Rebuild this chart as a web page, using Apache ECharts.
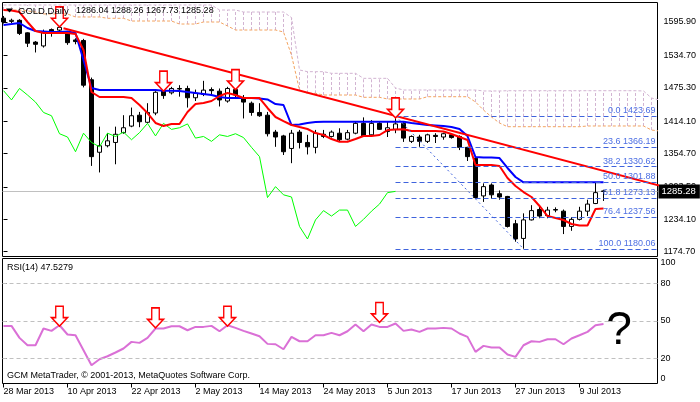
<!DOCTYPE html>
<html><head><meta charset="utf-8">
<script src="https://cdn.jsdelivr.net/npm/echarts@6/dist/echarts.min.js"></script>
<style>html,body{margin:0;padding:0;background:#fff}#c{width:700px;height:402px}</style>
</head><body><div id="c"></div>
<script>
const dates = ['28 Mar 2013','1 Apr 2013','2 Apr 2013','3 Apr 2013','4 Apr 2013','5 Apr 2013','8 Apr 2013','9 Apr 2013','10 Apr 2013','11 Apr 2013',
'12 Apr 2013','15 Apr 2013','16 Apr 2013','17 Apr 2013','18 Apr 2013','19 Apr 2013','22 Apr 2013','23 Apr 2013','24 Apr 2013','25 Apr 2013',
'26 Apr 2013','29 Apr 2013','30 Apr 2013','1 May 2013','2 May 2013','3 May 2013','6 May 2013','7 May 2013','8 May 2013','9 May 2013',
'10 May 2013','13 May 2013','14 May 2013','15 May 2013','16 May 2013','17 May 2013','20 May 2013','21 May 2013','22 May 2013','23 May 2013',
'24 May 2013','27 May 2013','28 May 2013','29 May 2013','30 May 2013','31 May 2013','3 Jun 2013','4 Jun 2013','5 Jun 2013','6 Jun 2013',
'7 Jun 2013','10 Jun 2013','11 Jun 2013','12 Jun 2013','13 Jun 2013','14 Jun 2013','17 Jun 2013','18 Jun 2013','19 Jun 2013','20 Jun 2013',
'21 Jun 2013','24 Jun 2013','25 Jun 2013','26 Jun 2013','27 Jun 2013','28 Jun 2013','1 Jul 2013','2 Jul 2013','3 Jul 2013','4 Jul 2013',
'5 Jul 2013','8 Jul 2013','9 Jul 2013','10 Jul 2013','11 Jul 2013','12 Jul 2013'];
const tickIdx = [0,8,16,24,32,40,48,56,64,72];
const priceTicks = [1174.70,1234.10,1293.50,1354.70,1414.10,1475.30,1534.70,1595.90];
const rsiTicks = [0,20,50,80,100];
const rsiLevels = [20,50,80];

const open = [1603,1597,1599,1576,1559,1552,1582,1581,1575,1563,
1562,1490,1357,1369,1375,1393,1405,1425,1412,1429,
1470,1466,1474,1474,1457,1463,1472,1469,1451,1472,
1457,1447,1430,1425,1394,1387,1364,1394,1375,1366,
1390,1386,1392,1381,1392,1410,1389,1410,1395,1399,
1410,1377,1385,1377,1388,1385,1389,1386,1366,1346,
1277,1297,1281,1276,1226,1199,1233,1252,1241,1252,
1249,1221,1234,1249,1263,1286.04];
const high = [1607,1602,1601,1577,1561,1582,1584,1590,1578,1566,
1565,1494,1404,1392,1404,1425,1439,1431,1447,1469,
1486,1477,1480,1479,1472,1488,1476,1474,1477,1475,
1462,1450,1447,1431,1398,1389,1398,1398,1389,1398,
1398,1397,1401,1398,1414,1421,1416,1413,1413,1423.69,
1413,1388,1389,1391,1392,1393,1391,1388,1367,1349,
1300,1300,1287,1277,1233,1245,1260,1260,1257,1256,
1252,1238,1257,1270,1301,1288.26];
const low = [1593,1594,1572,1550,1540,1549,1569,1579,1554,1555,
1476,1332,1320,1366,1335,1391,1403,1403,1410,1425,
1455,1463,1459,1439,1451,1460,1462,1441,1448,1456,
1419,1424,1422,1386,1367,1352,1337,1364,1353,1355,
1383,1384,1376,1379,1390,1385,1386,1398,1385,1392,
1376,1374,1367,1374,1374,1380,1382,1361,1341,1272,
1266,1272,1270,1219,1193,1180.06,1232,1236,1236,1247,
1207,1213,1232,1240,1262,1267.73];
const close = [1596,1599,1575,1557,1555,1577,1576,1586,1558,1560,
1480,1349,1369,1378,1390,1402,1424,1413,1430,1467,
1461,1474,1473,1457,1465,1471,1470,1453,1474,1462,
1449,1430,1424,1391,1385,1358,1392,1375,1367,1392,
1386,1394,1380,1393,1410,1387,1410,1399,1402,1409,
1383,1386,1377,1389,1386,1391,1384,1366,1349,1274,
1294,1279,1275,1221,1198,1233,1250,1240,1251,1251,
1221,1234,1249,1262,1283,1285.28];

const tenkan = [1617.9,1617.0,1614.2,1595.9,1579.4,1575.7,1575.7,1575.7,1575.7,1573.9,
1544.6,1467.5,1458.4,1458.4,1458.4,1458.4,1456.5,1443.7,1429.0,1410.7,
1405.2,1408.9,1408.9,1430.9,1445.5,1447.4,1451.0,1460.2,1465.7,1462.0,
1456.5,1456.5,1456.5,1438.2,1421.7,1414.3,1407.0,1403.3,1399.7,1392.3,
1388.7,1381.3,1376.4,1376.4,1381.3,1386.8,1386.8,1388.7,1397.8,1398.8,
1399.1,1396.0,1396.0,1396.0,1396.0,1395.1,1390.5,1385.0,1379.5,1333.7,
1333.7,1333.7,1331.8,1309.8,1295.1,1284.1,1275.0,1258.5,1240.1,1236.5,
1232.8,1225.5,1222.7,1222.7,1253.0,1253.9];
const kijun = [1590.4,1592.2,1594.1,1584.9,1579.4,1578.5,1577.6,1577.6,1578.5,1575.7,
1526.2,1474.9,1471.2,1471.2,1471.2,1471.2,1471.2,1471.2,1471.2,1471.2,
1469.9,1469.9,1469.4,1467.5,1465.7,1463.9,1462.0,1458.4,1456.5,1456.5,
1456.5,1456.5,1455.6,1453.8,1445.5,1443.7,1407.0,1407.9,1410.7,1412.5,
1413.1,1413.1,1413.1,1413.1,1413.1,1413.1,1413.1,1413.1,1413.1,1413.1,
1413.1,1410.7,1408.9,1407.0,1406.1,1405.2,1403.3,1399.7,1386.8,1348.3,
1347.4,1347.4,1346.5,1328.2,1311.7,1301.9,1301.9,1301.9,1301.9,1301.9,
1301.9,1301.9,1301.9,1301.9,1301.9,1301.9];
const chikou = [1470,1453,1474,1462,1449,1430,1424,1391,1385,1358,
1392,1375,1367,1392,1386,1394,1380,1393,1410,1387,
1410,1399,1402,1409,1383,1386,1377,1389,1386,1391,
1384,1366,1349,1274,1294,1279,1275,1221,1198,1233,
1250,1240,1251,1251,1221,1234,1249,1262,1283,1285.28];
const spanA = [1617.9,1617.9,1617.9,1616.1,1614.2,1610.6,1610.6,1610.6,1610.6,1605.1,
1605.1,1605.1,1605.1,1602.7,1602.7,1602.7,1597.7,1597.7,1597.7,1597.7,
1597.7,1597.7,1592.2,1592.2,1592.2,1595.9,1595.9,1595.9,1588.6,1581.2,
1581.2,1581.2,1581.2,1581.2,1581.2,1577.6,1535.0,1471.2,1465.1,1465.1,
1462.0,1462.0,1462.0,1462.0,1462.0,1457.8,1457.8,1457.8,1454.7,1454.7,
1454.7,1454.7,1454.7,1458.9,1458.9,1458.9,1458.9,1458.9,1458.9,1449.2,
1434.5,1421.7,1410.7,1403.9,1403.9,1403.9,1403.9,1403.9,1403.9,1403.9,
1403.9,1403.9,1403.9,1405.2,1405.2,1405.2,1405.2,1405.2,1405.2,1405.2,
1405.2,1397.8,1396.0];
const spanB = [1627.1,1627.1,1627.1,1627.1,1627.1,1627.1,1627.1,1627.1,1627.1,1627.1,
1627.1,1627.1,1627.1,1627.1,1627.1,1627.1,1627.1,1627.1,1627.1,1627.1,
1627.1,1627.1,1627.1,1627.1,1627.1,1627.1,1627.1,1617.9,1617.9,1617.9,
1614.2,1614.2,1614.2,1614.2,1614.2,1614.2,1604.0,1507.9,1504.8,1504.8,
1504.8,1501.8,1501.8,1501.8,1501.8,1492.6,1492.6,1492.6,1492.6,1474.9,
1471.2,1471.2,1471.2,1471.2,1471.2,1471.2,1471.2,1471.2,1471.2,1471.2,
1469.4,1469.4,1469.4,1469.9,1469.9,1469.9,1469.9,1469.9,1469.9,1469.9,
1469.9,1469.9,1469.9,1469.9,1469.9,1469.9,1469.9,1469.9,1469.9,1469.9,
1469.4,1456.5,1452.9];
const rsi = [46.1,46.1,36.5,30.6,30.6,44.0,42.1,46.6,39.2,38.6,
26.6,14.6,19.4,21.8,24.8,28.0,33.3,32.5,36.5,44.0,
44.0,45.8,45.8,42.6,45.3,45.3,46.1,41.8,46.6,44.5,
42.1,40.0,37.8,31.7,31.4,27.4,37.3,33.8,33.8,38.6,
38.6,40.5,38.6,41.8,47.2,41.8,47.2,45.3,45.3,48.0,
42.1,43.2,41.3,44.0,44.0,44.5,44.0,40.0,37.3,25.3,
30.1,28.8,28.8,23.2,21.3,30.6,33.8,33.3,35.4,35.4,
31.4,36.0,38.6,41.3,46.6,47.53];
const trendIdx = [7.5, 82];
const trendPrice = [1584.5, 1295.7];
const fibLevels = ['0.0','23.6','38.2','50.0','61.8','76.4','100.0'];
const fibPrices = [1423.69,1366.19,1330.62,1301.88,1273.13,1237.56,1180.06];
const fibFromIdx = 49, fibToIdx = 65;
const mainArrowIdx = [7,20,29,49];
const mainArrowPrice = [1587,1469,1472,1420];
const rsiArrowIdx = [7,19,28,47];
const rsiArrowVal = [45.8,44.5,45.8,48.8];
const lastPrice = 1285.28;

const FONT = '"Liberation Sans", Arial, sans-serif';
const XMIN = -0.125, XMAX = 81.75;
const arrowPath = 'path://M4.5,0L12.5,0L12.5,12L17,12L8.5,21L0,12L4.5,12Z';

const pairs = arr => arr.map((v,i)=>[i,v]);

const chart = echarts.init(document.getElementById('c'), null, {renderer:'canvas'});
const option = {
  animation: false,
  backgroundColor: '#fff',
  grid: [
    {left:2.5, top:2.5, right:42.5, bottom:145.5, show:true, borderColor:'#000', borderWidth:1, backgroundColor:'#fff', outerBoundsMode:'none'},
    {left:2.5, top:258.5, right:42.5, bottom:18.5, show:true, borderColor:'#000', borderWidth:1, backgroundColor:'#fff', outerBoundsMode:'none'}
  ],
  xAxis: [
    {gridIndex:0, type:'value', min:XMIN, max:XMAX, show:false},
    {gridIndex:1, type:'value', min:XMIN, max:XMAX,
      axisLine:{show:false}, splitLine:{show:false},
      axisTick:{show:true, customValues:tickIdx, length:4, lineStyle:{color:'#000'}},
      axisLabel:{customValues:tickIdx, formatter:v=>dates[Math.round(v)], align:'left', margin:4,
        color:'#000', fontSize:9, fontFamily:FONT}}
  ],
  yAxis: [
    {gridIndex:0, type:'value', position:'right', min:1165.87, max:1631.66,
      axisLine:{show:false}, splitLine:{show:false},
      axisTick:{show:true, customValues:priceTicks, length:4, lineStyle:{color:'#000'}},
      axisLabel:{customValues:priceTicks, formatter:v=>v.toFixed(2), margin:6, color:'#000', fontSize:9, fontFamily:FONT}},
    {gridIndex:1, type:'value', position:'right', min:0, max:100,
      axisLine:{show:false}, splitLine:{show:false},
      axisTick:{show:true, customValues:rsiTicks, length:3, lineStyle:{color:'#000'}},
      axisLabel:{customValues:rsiTicks, margin:3, color:'#000', fontSize:9, fontFamily:FONT,
        verticalAlignMinLabel:'bottom', verticalAlignMaxLabel:'top'}}
  ],
  graphic: [
    {type:'polygon', z:100, shape:{points:[[6,8.5],[13,8.5],[9.5,12.5]]}, style:{fill:'#000'}},
    {type:'text', z:100, x:18, y:11, style:{text:'GOLD,Daily', fill:'#000', font:'9.5px '+FONT, verticalAlign:'middle'}},
    {type:'text', z:100, x:76, y:11, style:{text:'1286.04 1288.26 1267.73 1285.28', fill:'#000', font:'9px '+FONT, verticalAlign:'middle'}},
    {type:'text', z:100, x:7, y:267.5, style:{text:'RSI(14) 47.5279', fill:'#000', font:'9px '+FONT, verticalAlign:'middle'}},
    {type:'text', z:100, x:7, y:376, style:{text:'GCM MetaTrader, © 2001-2013, MetaQuotes Software Corp.', fill:'#000', font:'9px '+FONT, verticalAlign:'middle'}},
    {type:'text', z:100, x:619, y:331, style:{text:'?', fill:'#000', font:'46px '+FONT, align:'center', verticalAlign:'middle'}}
  ],
  series: [
    {type:'custom', name:'cloud', xAxisIndex:0, yAxisIndex:0, clip:true, silent:true, z:1,
      data: spanA.map((a,i)=>[i,a,spanB[i]]), encode:{x:0, y:[1,2]},
      renderItem:(params, api)=>{
        const p1 = api.coord([api.value(0), api.value(1)]);
        const p2 = api.coord([api.value(0), api.value(2)]);
        return {type:'line', shape:{x1:p1[0], y1:p1[1], x2:p2[0], y2:p2[1]},
          style:{stroke:'#D2B4D2', lineWidth:1, lineDash:[3,2]}};
      }},
    {type:'line', name:'SpanA', xAxisIndex:0, yAxisIndex:0, data:pairs(spanA), symbol:'none', silent:true, z:1,
      lineStyle:{color:'#F4A460', width:1, type:[3,2]}},
    {type:'line', name:'SpanB', xAxisIndex:0, yAxisIndex:0, data:pairs(spanB), symbol:'none', silent:true, z:1,
      lineStyle:{color:'#D2B4D2', width:1, type:[3,2]}},
    {type:'candlestick', name:'GOLD', xAxisIndex:0, yAxisIndex:0, barWidth:5, silent:true,
      data: dates.map((d,i)=>[i, open[i], close[i], low[i], high[i]]), encode:{x:0, y:[1,2,3,4]},
      itemStyle:{color:'#fff', color0:'#000', borderColor:'#000', borderColor0:'#000', borderColorDoji:'#000', borderWidth:1},
      markLine:{silent:true, symbol:['none','none'], z:1,
        data:[{yAxis:lastPrice}],
        lineStyle:{color:'#C0C0C0', type:'solid', width:1},
        label:{show:true, position:'end', distance:1, formatter:()=>lastPrice.toFixed(2), color:'#fff',
          backgroundColor:'#000', padding:[2,4,2,3], fontSize:9.5, fontFamily:FONT}}},
    {type:'line', name:'Chikou', xAxisIndex:0, yAxisIndex:0, data:pairs(chikou), symbol:'none', silent:true,
      lineStyle:{color:'#00FF00', width:1}},
    {type:'line', name:'Kijun', xAxisIndex:0, yAxisIndex:0, data:pairs(kijun), symbol:'none', silent:true,
      lineStyle:{color:'#0000FF', width:2}},
    {type:'line', name:'Tenkan', xAxisIndex:0, yAxisIndex:0, data:pairs(tenkan), symbol:'none', silent:true,
      lineStyle:{color:'#FF0000', width:2}},
    {type:'line', name:'FibTrend', xAxisIndex:0, yAxisIndex:0, symbol:'none', silent:true,
      data:[[fibFromIdx, fibPrices[0]],[fibToIdx, fibPrices[fibPrices.length-1]]],
      lineStyle:{color:'#3F63DD', width:1, type:[2,3]},
      markLine:{silent:true, symbol:['none','none'],
        lineStyle:{color:'#3F63DD', width:1, type:[5,3]},
        label:{show:true, position:'insideEndTop', distance:[2,1], color:'#4D6FE3', fontSize:9, fontFamily:FONT},
        data: fibPrices.map((p,i)=>[
          {coord:[fibFromIdx,p], label:{formatter: fibLevels[i]+' '+p.toFixed(2)}},
          {coord:[XMAX,p]}])}},
    {type:'line', name:'Trend', xAxisIndex:0, yAxisIndex:0, symbol:'none', silent:true,
      data: trendIdx.map((k,i)=>[k, trendPrice[i]]),
      lineStyle:{color:'#FF0000', width:2},
      markPoint:{silent:true, symbol:arrowPath, symbolSize:[16,20], symbolOffset:[0,'-50%'], label:{show:false},
        itemStyle:{color:'#FFFFFF', borderColor:'#FF0000', borderWidth:1.5},
        data: mainArrowIdx.map((k,i)=>({coord:[k, mainArrowPrice[i]]}))}},
    {type:'line', name:'RSI', xAxisIndex:1, yAxisIndex:1, data:pairs(rsi), symbol:'none', silent:true,
      lineStyle:{color:'#DA70D6', width:2},
      markLine:{silent:true, symbol:['none','none'], label:{show:false},
        lineStyle:{color:'#C0C0C0', width:1, type:[4,3]},
        data: rsiLevels.map(v=>({yAxis:v}))},
      markPoint:{silent:true, symbol:arrowPath, symbolSize:[16,20], symbolOffset:[0,'-50%'], label:{show:false},
        itemStyle:{color:'#FFFFFF', borderColor:'#FF0000', borderWidth:1.5},
        data: rsiArrowIdx.map((k,i)=>({coord:[k, rsiArrowVal[i]]}))}}
  ]
};
chart.setOption(option);
</script>
</body></html>
